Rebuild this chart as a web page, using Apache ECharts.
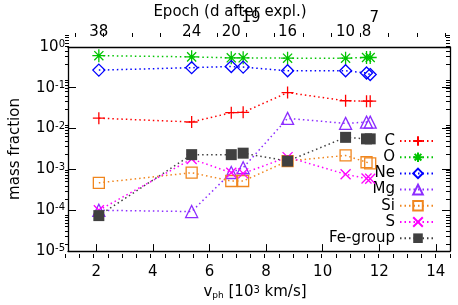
<!DOCTYPE html>
<html><head><meta charset="utf-8">
<script src="https://cdn.jsdelivr.net/npm/echarts@6/dist/echarts.min.js"></script>
<style>html,body{margin:0;padding:0;background:#fff}#c{width:458px;height:305px}</style>
</head><body><div id="c"></div>
<script>
// ---- data ----
const vph    = [2.09, 5.37, 6.77, 7.19, 8.76, 10.81, 11.55, 11.68];
const epochs = [38, 24, 20, 19, 16, 10, 8, 7];
const C  = [0.018, 0.0145, 0.0245, 0.025, 0.076, 0.048, 0.047, 0.047];
const O  = [0.61, 0.57, 0.54, 0.54, 0.53, 0.53, 0.55, 0.55];
const Ne = [0.27, 0.31, 0.33, 0.32, 0.26, 0.26, 0.23, 0.21];
const Mg = [1.0e-4, 9.3e-5, 8.4e-4, 1.1e-3, 0.0178, 0.0134, 0.0144, 0.0144];
const Si = [4.7e-4, 8.3e-4, 5.2e-4, 5.2e-4, 1.6e-3, 2.2e-3, 1.5e-3, 1.4e-3];
const S  = [1.0e-4, 1.8e-3, 8.3e-4, 8.0e-4, 2.0e-3, 7.6e-4, 6.0e-4, 5.9e-4];
const Fe = [7.4e-5, 2.3e-3, 2.3e-3, 2.5e-3, 1.6e-3, 6.1e-3, 5.6e-3, 5.6e-3];
const seriesNames = ['C', 'O', 'Ne', 'Mg', 'Si', 'S', 'Fe-group'];
const xTickLabels = [2, 4, 6, 8, 10, 12, 14];
const yDecades = [1e-5, 1e-4, 1e-3, 1e-2, 1e-1, 1];

// ---- helpers ----
const FONT = "'DejaVu Sans', Verdana, sans-serif";
const FS = 15;
const xMinor = []; for (let v = 1; v <= 14.5001; v += 0.5) xMinor.push(+v.toFixed(2));
const topMinor = []; for (let v = 1.35; v <= 14.5; v += 1) topMinor.push(+v.toFixed(2));
const yMinor = [];
yDecades.slice(0, -1).forEach(d => { for (let k = 2; k <= 9; k++) yMinor.push(+(d * k).toPrecision(3)); });

// crowded epoch labels drawn on separate (overlaid) top axes, left-aligned
const nudged = [3, 7];
const mainIdx = vph.map((_, i) => i).filter(i => nudged.indexOf(i) < 0);
const epochFmt = v => {
  const i = vph.findIndex(x => Math.abs(x - v) < 1e-6);
  return i < 0 ? '' : String(epochs[i]);
};

const sym = {
  plus: 'path://M5,0L5,10M0,5L10,5',
  star: 'path://M5,0L5,10M0,5L10,5M1.5,1.5L8.5,8.5M1.5,8.5L8.5,1.5',
  diamond: 'path://M5,0L10,5L5,10L0,5Z',
  tri: 'path://M5,0L10,9L0,9Z',
  sq: 'path://M0,0L10,0L10,10L0,10Z',
  x: 'path://M0,0L10,10M0,10L10,0'
};
const styles = [
  {color: '#ff0000', symbol: sym.plus, size: 12, fill: false},
  {color: '#00c400', symbol: sym.star, size: 13, fill: false},
  {color: '#0000ff', symbol: sym.diamond, size: 12, fill: false},
  {color: '#8c2cff', symbol: sym.tri, size: 12, fill: false},
  {color: '#f0861e', symbol: sym.sq, size: 11, fill: false},
  {color: '#ff00ff', symbol: sym.x, size: 10, fill: false},
  {color: '#404040', symbol: 'rect', size: 11, fill: true}
];
const allVals = [C, O, Ne, Mg, Si, S, Fe];

const series = seriesNames.map((name, i) => {
  const st = styles[i];
  return {
    name, type: 'line', xAxisIndex: 0, yAxisIndex: 0,
    data: vph.map((x, j) => [x, allVals[i][j]]),
    symbol: st.symbol, symbolSize: st.size, showAllSymbol: true,
    lineStyle: {color: st.color, width: 1.5, type: [1.5, 3]},
    itemStyle: st.fill ? {color: st.color} :
      {color: 'rgba(0,0,0,0)', borderColor: st.color, borderWidth: 1.3},
    z: 2 + i, animation: false
  };
});

const supMap = e => (e === 0 ? '0' : '-' + (-e));
const gridRect = {left: 65, right: 8, top: 33, bottom: 47};
const black = {lineStyle: {color: '#000', width: 1.3}};
const topLabel = (vals, align) => ({
  customValues: vals, fontSize: FS, color: '#000', margin: 7, fontFamily: FONT,
  hideOverlap: false, formatter: epochFmt, align: align
});
const hiddenY = g => ({type: 'log', gridIndex: g, min: 1e-5, max: 1, show: false});

const chart = echarts.init(document.getElementById('c'), null, {renderer: 'canvas'});
chart.setOption({
  animation: false,
  backgroundColor: '#fff',
  textStyle: {fontFamily: FONT, color: '#000'},
  grid: [0, 1, 2].map(() => Object.assign({}, gridRect)),
  xAxis: [
    { // bottom main
      type: 'value', gridIndex: 0, position: 'bottom', min: 1, max: 14.5,
      axisLine: Object.assign({show: true, onZero: false}, black),
      axisTick: {show: true, inside: true, length: 7, customValues: xTickLabels, lineStyle: {color: '#000', width: 1}},
      axisLabel: {customValues: xTickLabels, fontSize: FS, color: '#000', margin: 14, fontFamily: FONT},
      splitLine: {show: false},
      name: '{v|v}{sub|ph} [10{sup|3} km/s]', nameLocation: 'middle', nameGap: 32,
      nameTextStyle: {fontSize: FS, color: '#000', fontFamily: FONT, padding: [0, 8, 0, 0],
        rich: {v: {fontSize: FS, fontFamily: FONT}, sub: {fontSize: 9, verticalAlign: 'bottom', fontFamily: FONT},
               sup: {fontSize: 10, verticalAlign: 'top', fontFamily: FONT}}}
    },
    { // top epochs
      type: 'value', gridIndex: 0, position: 'top', min: 1, max: 14.5,
      axisLine: Object.assign({show: true, onZero: false}, black),
      axisTick: {show: false},
      axisLabel: topLabel(mainIdx.map(i => vph[i]), 'center'),
      splitLine: {show: false},
      name: 'Epoch (d after expl.)', nameLocation: 'middle', nameGap: 22,
      nameTextStyle: {fontSize: FS, color: '#000', fontFamily: FONT, padding: [0, 58, 0, 0]}
    },
    { // bottom minor
      type: 'value', gridIndex: 1, position: 'bottom', min: 1, max: 14.5,
      axisLine: {show: false}, axisLabel: {show: false}, splitLine: {show: false},
      axisTick: {show: true, inside: true, length: 4, customValues: xMinor, lineStyle: {color: '#000', width: 1}}
    },
    { // top minor + "7"
      type: 'value', gridIndex: 1, position: 'top', min: 1, max: 14.5,
      axisLine: {show: false}, splitLine: {show: false},
      axisLabel: topLabel([vph[7]], 'left'),
      axisTick: {show: true, inside: true, length: 4, customValues: topMinor, lineStyle: {color: '#000', width: 1}}
    },
    { // "19"
      type: 'value', gridIndex: 2, position: 'top', min: 1, max: 14.5,
      axisLine: {show: false}, splitLine: {show: false}, axisTick: {show: false},
      axisLabel: topLabel([vph[3]], 'left')
    }
  ],
  yAxis: [
    { // left main
      type: 'log', logBase: 10, gridIndex: 0, position: 'left', min: 1e-5, max: 1,
      axisLine: Object.assign({show: true, onZero: false}, black),
      axisTick: {show: true, inside: true, length: 8, customValues: yDecades, lineStyle: {color: '#000', width: 1}},
      axisLabel: {customValues: yDecades, color: '#000', margin: 3, fontFamily: FONT,
        formatter: v => '{b|10}{s|' + supMap(Math.round(Math.log10(v))) + '}',
        rich: {b: {fontSize: FS, fontFamily: FONT}, s: {fontSize: 10, verticalAlign: 'top', fontFamily: FONT}}},
      splitLine: {show: false},
      name: 'mass fraction', nameLocation: 'middle', nameGap: 45, nameRotate: 90,
      nameTextStyle: {fontSize: FS, color: '#000', fontFamily: FONT}
    },
    { // right main
      type: 'log', logBase: 10, gridIndex: 0, position: 'right', min: 1e-5, max: 1,
      axisLine: Object.assign({show: true, onZero: false}, black),
      axisTick: {show: true, inside: true, length: 8, customValues: yDecades, lineStyle: {color: '#000', width: 1}},
      axisLabel: {show: false}, splitLine: {show: false}
    },
    { // left minor
      type: 'log', logBase: 10, gridIndex: 1, position: 'left', min: 1e-5, max: 1,
      axisLine: {show: false}, axisLabel: {show: false}, splitLine: {show: false},
      axisTick: {show: true, inside: true, length: 4, customValues: yMinor, lineStyle: {color: '#000', width: 1}}
    },
    { // right minor
      type: 'log', logBase: 10, gridIndex: 1, position: 'right', min: 1e-5, max: 1,
      axisLine: {show: false}, axisLabel: {show: false}, splitLine: {show: false},
      axisTick: {show: true, inside: true, length: 4, customValues: yMinor, lineStyle: {color: '#000', width: 1}}
    },
    hiddenY(2)
  ],
  legend: {
    orient: 'vertical', align: 'right', right: 16, top: 128,
    itemWidth: 36, itemHeight: 12, itemGap: 0.2,
    textStyle: {fontSize: FS, color: '#000', fontFamily: FONT, lineHeight: 16},
    data: seriesNames, selectedMode: false
  },
  series
});
</script></body></html>
